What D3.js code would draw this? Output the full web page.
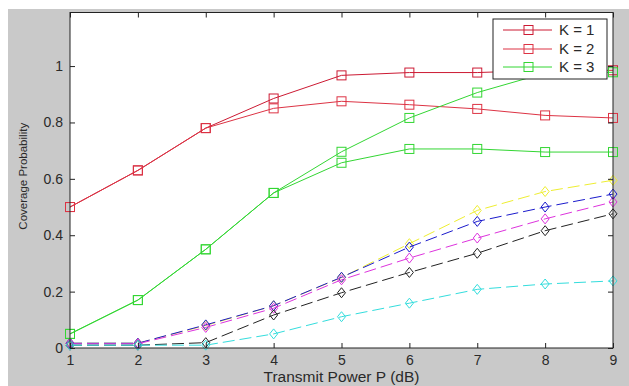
<!DOCTYPE html>
<html><head><meta charset="utf-8">
<script src="https://cdn.jsdelivr.net/npm/d3@7"></script>
<style>html,body{margin:0;padding:0;background:#fff;}svg{display:block;}</style>
</head><body>
<script>
const xValues = [1,2,3,4,5,6,7,8,9];
const xTicks = [1,2,3,4,5,6,7,8,9];
const yTicks = [0,0.2,0.4,0.6,0.8,1];
const yTickLabels = ["0","0.2","0.4","0.6","0.8","1"];

const k1 = [0.50,0.63,0.78,0.885,0.967,0.977,0.977,0.985,0.985];
const k2 = [0.50,0.63,0.78,0.850,0.875,0.863,0.848,0.825,0.816];
const k3 = [0.05,0.17,0.35,0.550,0.696,0.816,0.906,0.975,0.978];
const k3b = [0.05,0.17,0.35,0.550,0.657,0.706,0.706,0.695,0.695];

const yellowS = [0.017,0.017,0.08,0.15,0.25,0.37,0.488,0.555,0.595];
const blueS = [0.017,0.017,0.082,0.150,0.251,0.358,0.449,0.500,0.546];
const magentaS = [0.015,0.015,0.073,0.141,0.242,0.319,0.390,0.458,0.518];
const blackS = [0.010,0.010,0.019,0.117,0.196,0.268,0.336,0.416,0.476];
const cyanS = [0.010,0.010,0.010,0.050,0.111,0.159,0.208,0.227,0.238];

const legendLabels = ["K = 1","K = 2","K = 3"];

const W = 629, H = 386;
const svg = d3.select("body").append("svg").attr("width", W).attr("height", H);
svg.append("rect").attr("x",8).attr("y",9).attr("width",W-8).attr("height",H-9).attr("fill","#c9c9c9");

const L = 70, R = 613, T = 12.5, B = 348;
const x = d3.scaleLinear().domain([1,9]).range([L,R]);
const y = d3.scaleLinear().domain([0,1.19]).range([B,T]);

svg.append("rect").attr("x",L).attr("y",T).attr("width",R-L).attr("height",B-T).attr("fill","#fff");

const font = "Liberation Sans, Arial, sans-serif";

const squareSeries = [
  {data:k1, color:"#cc1a33"},
  {data:k2, color:"#dd3344"},
  {data:k3, color:"#33d633"},
  {data:k3b, color:"#33d633"}
];
const diamondSeries = [
  {data:yellowS, color:"#eeee30"},
  {data:blueS, color:"#1a1acc"},
  {data:magentaS, color:"#dd33dd"},
  {data:blackS, color:"#222222"},
  {data:cyanS, color:"#33dddd"}
];

const line = d3.line().x((d,i)=>x(xValues[i])).y(d=>y(d));
const plot = svg.append("g");

diamondSeries.forEach(s=>{
  plot.append("path").attr("d", line(s.data)).attr("fill","none").attr("stroke",s.color)
    .attr("stroke-width",1).attr("stroke-dasharray","12,5");
  plot.selectAll(null).data(s.data).enter().append("path")
    .attr("d",(d,i)=>{const cx=x(xValues[i]), cy=y(d); return `M${cx},${cy-5}L${cx+4},${cy}L${cx},${cy+5}L${cx-4},${cy}Z`;})
    .attr("fill","none").attr("stroke",s.color).attr("stroke-width",1);
});
squareSeries.forEach(s=>{
  plot.append("path").attr("d", line(s.data)).attr("fill","none").attr("stroke",s.color).attr("stroke-width",1);
  plot.selectAll(null).data(s.data).enter().append("rect")
    .attr("x",(d,i)=>x(xValues[i])-4.5).attr("y",d=>y(d)-4.5).attr("width",9).attr("height",9)
    .attr("fill","none").attr("stroke",s.color).attr("stroke-width",1);
});

// axes box
const ax = svg.append("g");
ax.append("rect").attr("x",L).attr("y",T).attr("width",R-L).attr("height",B-T).attr("fill","none").attr("stroke","#222").attr("stroke-width",1);

const xAxisB = d3.axisBottom(x).tickValues(xTicks).tickSize(-5).tickPadding(7).tickFormat(d3.format("d"));
const gxb = svg.append("g").attr("transform",`translate(0,${B})`).call(xAxisB);
const xAxisT = d3.axisTop(x).tickValues(xTicks).tickSize(-5).tickFormat("");
const gxt = svg.append("g").attr("transform",`translate(0,${T})`).call(xAxisT);
const yAxisL = d3.axisLeft(y).tickValues(yTicks).tickSize(-5).tickPadding(7).tickFormat((d,i)=>yTickLabels[i]);
const gyl = svg.append("g").attr("transform",`translate(${L},0)`).call(yAxisL);
const yAxisR = d3.axisRight(y).tickValues(yTicks).tickSize(-5).tickFormat("");
const gyr = svg.append("g").attr("transform",`translate(${R},0)`).call(yAxisR);
[gxb,gxt,gyl,gyr].forEach(g=>{
  g.select(".domain").remove();
  g.selectAll(".tick line").attr("stroke","#222");
  g.selectAll("text").attr("font-family",font).attr("font-size",14).attr("fill","#2a2a2a");
});

svg.append("text").attr("x",(L+R)/2).attr("y",382).attr("text-anchor","middle")
  .attr("font-family",font).attr("font-size",15.5).attr("fill","#2a2a2a").text("Transmit Power P (dB)");
svg.append("text").attr("transform",`translate(27,${(T+B)/2-4}) rotate(-90)`).attr("text-anchor","middle")
  .attr("font-family",font).attr("font-size",11.5).attr("fill","#2a2a2a").text("Coverage Probability");

// legend
const lg = svg.append("g");
lg.append("rect").attr("x",493).attr("y",19).attr("width",114).attr("height",60).attr("fill","#fff").attr("stroke","#222").attr("stroke-width",1);
const legendColors = [squareSeries[0].color, squareSeries[1].color, squareSeries[2].color];
const rowY = [30,49,67];
legendLabels.forEach((lab,i)=>{
  lg.append("line").attr("x1",503).attr("x2",552).attr("y1",rowY[i]).attr("y2",rowY[i]).attr("stroke",legendColors[i]);
  lg.append("rect").attr("x",528.5-4.5).attr("y",rowY[i]-4.5).attr("width",9).attr("height",9).attr("fill","none").attr("stroke",legendColors[i]);
  lg.append("text").attr("x",559).attr("y",rowY[i]+5).attr("font-family",font).attr("font-size",15).attr("fill","#2a2a2a").text(lab);
});
</script>
</body></html>
